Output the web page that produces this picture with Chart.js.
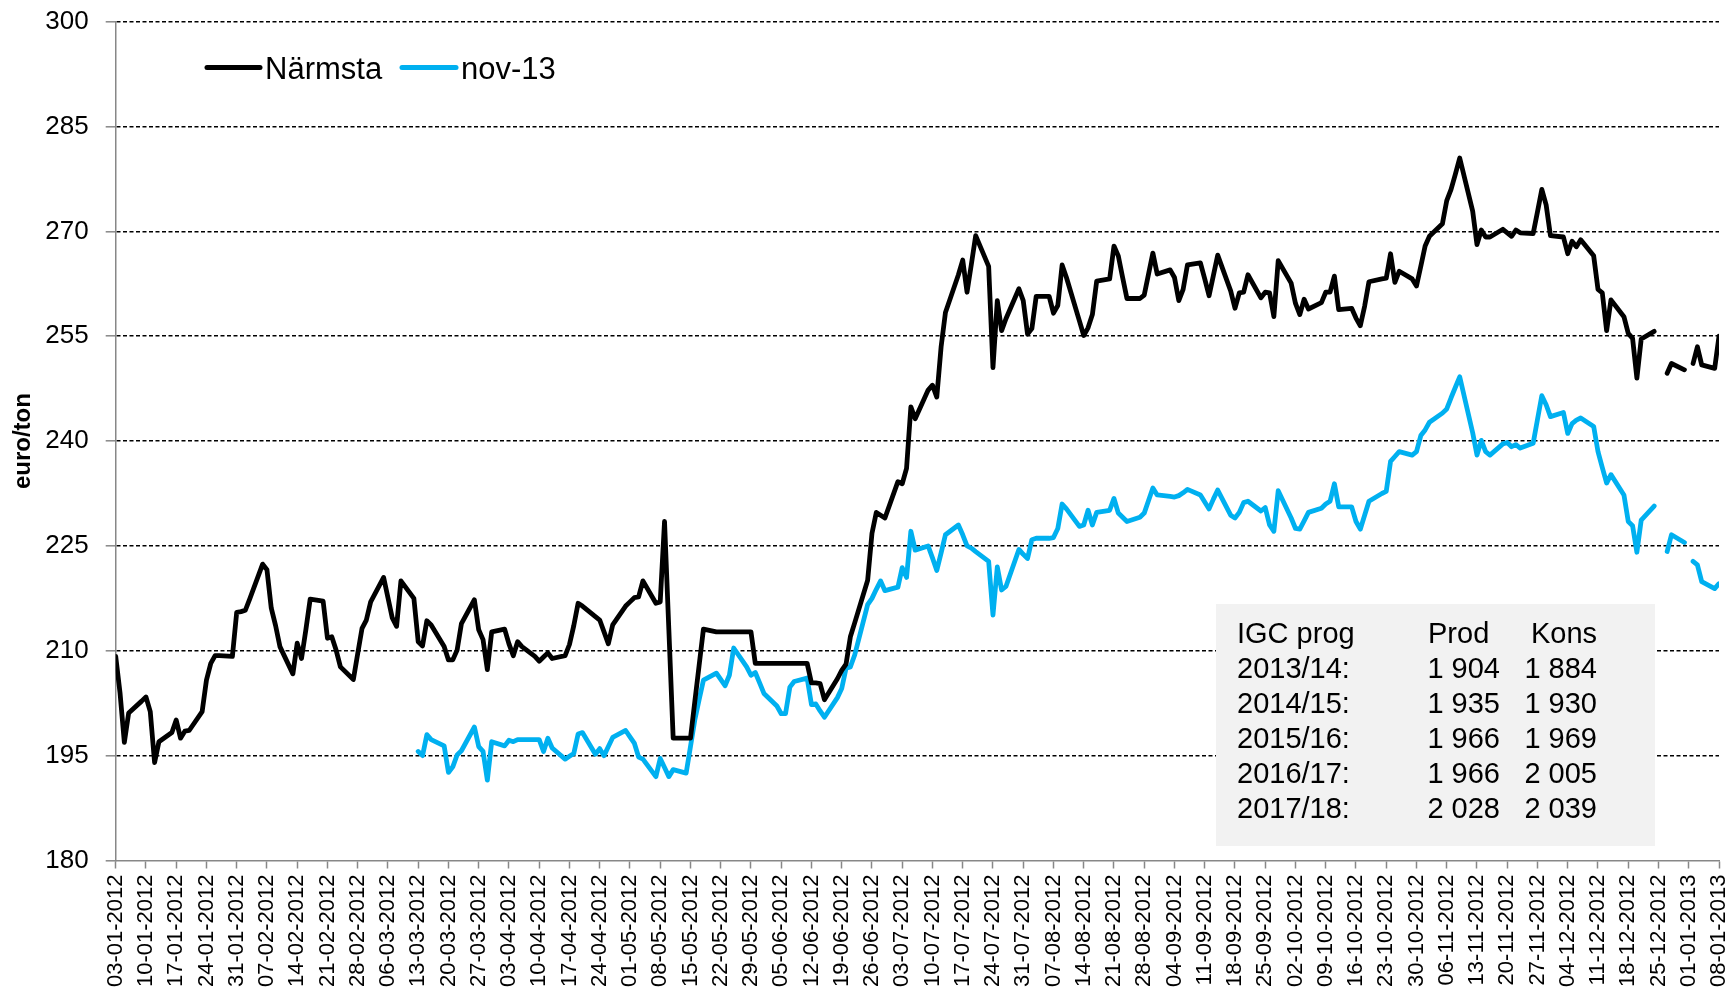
<!DOCTYPE html>
<html>
<head>
<meta charset="utf-8">
<script src="https://cdn.jsdelivr.net/npm/chart.js@4.4.1/dist/chart.umd.min.js"></script>
<style>
  html, body { margin: 0; padding: 0; background: #ffffff; }
  #wrap { width: 1732px; height: 991px; position: relative; }
  canvas { display: block; }
</style>
</head>
<body>
<div id="wrap"><canvas id="c" width="1732" height="991"></canvas></div>
<script>
// ---------- DATA ----------
// Trading days (Mon-Fri) from 03-01-2012 to 08-01-2013; x = days since 03-01-2012
const startYear = 2012, startMonth = 0, startDay = 3;
const lastDayOffset = 371;           // 08-01-2013
const tickStepDays = 7;              // weekly tick labels

const seriesNames = ['Närmsta', 'nov-13'];

// Närmsta (euro/ton), one row per week: Tue, Wed, Thu, Fri, Mon
const narmsta = [
  209.2, 204.0, 196.9, 201.1, 202.8,
  203.4, 201.3, 194.0, 197.0, 198.3,
  200.1, 197.5, 198.5, 198.6, 201.3,
  205.8, 208.2, 209.3, 209.3, 209.2,
  215.5, 215.6, 215.8, 217.4, 222.4,
  221.6, 216.1, 213.6, 210.6, 206.7,
  211.1, 208.9, 213.0, 217.4, 217.1,
  211.8, 212.0, 210.1, 207.7, 205.9,
  209.6, 213.2, 214.4, 217.0, 220.5,
  217.6, 214.7, 213.5, 220.0, 217.5,
  211.3, 210.7, 214.3, 213.7, 210.6,
  208.7, 208.7, 210.1, 213.9, 217.3,
  213.0, 211.6, 207.3, 212.7, 213.1,
  211.0, 209.3, 211.3, 210.6, 209.2,
  208.5, 209.1, 209.7, 208.9, 209.3,
  210.9, 213.6, 216.8, 216.4, 214.9,
  214.4, 212.7, 211.0, 213.7, 216.4,
  217.0, 217.6, 217.7, 220.0, 216.8,
  217.0, 228.5, 213.0, 197.5, 197.5,
  197.5, 202.7, 207.9, 213.1, 212.7,
  212.7, 212.7, 212.7, 212.7, 212.7,
  212.7, 208.2, 208.2, 208.2, 208.2,
  208.2, 208.2, 208.2, 208.2, 208.2,
  205.4, 205.4, 205.3, 203.0, 206.0,
  207.2, 208.1, 212.0, 214.0, 220.1,
  226.8, 229.8, 229.4, 229.0, 234.2,
  233.9, 236.1, 244.9, 243.2, 247.3,
  248.0, 246.3, 253.5, 258.4, 263.8,
  265.9, 261.3, 265.3, 269.4, 265.0,
  250.5, 260.1, 255.8, 257.5, 261.8,
  260.1, 255.3, 256.1, 260.7, 260.7,
  258.3, 259.4, 265.2, 263.4, 257.2,
  255.1, 256.2, 258.1, 262.9, 263.2,
  267.9, 266.5, 263.4, 260.4, 260.4,
  260.9, 263.9, 266.9, 263.9, 264.5,
  263.4, 260.1, 261.7, 265.2, 265.5,
  263.2, 260.8, 263.7, 266.6, 261.5,
  259.0, 261.2, 261.3, 263.8, 260.5,
  261.3, 261.2, 257.8, 265.8, 262.6,
  259.7, 258.1, 260.3, 258.9, 259.8,
  261.3, 261.3, 263.6, 258.8, 259.0,
  257.6, 256.5, 259.3, 262.8, 263.2,
  263.3, 266.8, 262.7, 264.3, 263.2,
  262.2, 265.0, 267.9, 269.3, 271.1,
  274.4, 276.0, 278.2, 280.5, 272.9,
  268.1, 270.2, 269.2, 269.2, 270.3,
  269.8, 269.3, 270.2, 269.8, 269.7,
  272.8, 276.0, 273.8, 269.4, 269.2,
  266.8, 268.6, 267.8, 268.8, 266.5,
  261.7, 261.2, 255.8, 260.2, 257.8,
  255.4, 254.7, 249.0, 254.6, 255.7,
  null,  null,  249.7, 251.1, 250.2,
  null,  251.1, 253.5, 250.9, 250.4,
  255.0
];

// nov-13 (euro/ton), quoted from 13-03-2012
const nov13 = [
  null, null, null, null, null, null, null, null, null, null,
  null, null, null, null, null, null, null, null, null, null,
  null, null, null, null, null, null, null, null, null, null,
  null, null, null, null, null, null, null, null, null, null,
  null, null, null, null, null, null, null, null, null, null,
  195.6, 195.0, 198.0, 197.3, 196.4,
  192.6, 193.4, 195.1, 195.7, 199.1,
  196.3, 195.6, 191.5, 197.0, 196.4,
  197.2, 197.0, 197.3, 197.3, 197.3,
  197.3, 195.6, 197.5, 196.1, 194.5,
  194.9, 195.3, 198.1, 198.3, 195.2,
  196.0, 195.0, 196.3, 197.6, 198.6,
  197.7, 196.8, 194.8, 194.5, 192.0,
  194.6, 193.3, 192.0, 193.0, 192.5,
  196.3, 200.1, 203.0, 205.8, 206.8,
  205.9, 205.0, 206.5, 210.4, 207.7,
  206.5, 206.9, 205.4, 203.9, 202.1,
  201.0, 201.0, 204.8, 205.6, 206.1,
  202.3, 202.4, 201.4, 200.5, 203.3,
  204.6, 207.5, 207.7, 209.4, 216.6,
  217.5, 218.8, 220.0, 218.6, 219.1,
  221.9, 220.5, 227.1, 224.4, 225.0,
  223.3, 221.5, 224.0, 226.6, 228.0,
  226.6, 225.0, 224.7, 224.2, 222.8,
  215.1, 222.0, 218.7, 219.2, 224.5,
  223.8, 223.2, 225.9, 226.1, 226.1,
  226.2, 227.5, 231.0, 230.3, 227.8,
  228.0, 230.1, 228.0, 229.8, 230.1,
  231.8, 229.7, 229.1, 228.5, 229.1,
  229.7, 231.5, 233.3, 232.3, 232.1,
  232.0, 232.2, 232.6, 233.1, 232.3,
  231.3, 230.3, 231.7, 233.0, 229.4,
  229.0, 229.8, 231.2, 231.4, 230.0,
  230.5, 228.0, 227.1, 232.9, 229.0,
  227.5, 227.4, 228.6, 229.8, 230.4,
  231.0, 231.4, 233.9, 230.6, 230.6,
  228.5, 227.4, 229.4, 231.4, 232.5,
  232.8, 237.1, 237.8, 238.5, 238.0,
  238.5, 240.8, 241.6, 242.7, 244.0,
  244.6, 246.2, 247.7, 249.2, 241.2,
  238.0, 240.1, 238.5, 238.0, 239.6,
  239.8, 239.2, 239.5, 239.0, 239.7,
  243.1, 246.5, 245.2, 243.5, 244.1,
  241.1, 242.5, 243.0, 243.3, 242.1,
  238.5, 236.2, 234.0, 235.2, 232.3,
  228.5, 227.9, 224.1, 228.7, 230.7,
  null,  null,  224.2, 226.6, 225.5,
  null,  222.8, 222.3, 219.9, 218.9,
  219.6
];

// Y axis
const yMin = 180, yMax = 300, yStep = 15;
const yTitle = 'euro/ton';

// IGC forecast table
const tableHeader = ['IGC prog', 'Prod', 'Kons'];
const tableYears  = ['2013/14:', '2014/15:', '2015/16:', '2016/17:', '2017/18:'];
const tableProd   = ['1 904', '1 935', '1 966', '1 966', '2 028'];
const tableKons   = ['1 884', '1 930', '1 969', '2 005', '2 039'];

// ---------- helpers ----------
const FONT = '"Liberation Sans", Arial, Helvetica, sans-serif';
function dayToDate(off) { return new Date(startYear, startMonth, startDay + off); }
function pad2(n) { return (n < 10 ? '0' : '') + n; }
function fmtDay(off) {
  const d = dayToDate(off);
  return pad2(d.getDate()) + '-' + pad2(d.getMonth() + 1) + '-' + d.getFullYear();
}
const tradingDays = [];
for (let off = 0; off <= lastDayOffset; off++) {
  const wd = dayToDate(off).getDay();
  if (wd >= 1 && wd <= 5) tradingDays.push(off);
}
function toPoints(vals) { return vals.map((v, i) => ({ x: tradingDays[i], y: v })); }

const colors = ['#000000', '#00B0F0'];

// ---------- plugins ----------
const legendPlugin = {
  id: 'lineLegend',
  afterDraw(chart) {
    const ctx = chart.ctx;
    const items = [
      { x1: 207, x2: 260, tx: 265 },
      { x1: 402, x2: 456, tx: 461 }
    ];
    ctx.save();
    chart.data.datasets.forEach((ds, i) => {
      const it = items[i];
      ctx.strokeStyle = ds.borderColor;
      ctx.lineWidth = 5;
      ctx.lineCap = 'round';
      ctx.beginPath();
      ctx.moveTo(it.x1, 67.5);
      ctx.lineTo(it.x2, 67.5);
      ctx.stroke();
      ctx.fillStyle = '#000';
      ctx.font = '31px ' + FONT;
      ctx.textBaseline = 'alphabetic';
      ctx.textAlign = 'left';
      ctx.fillText(ds.label, it.tx, 79);
    });
    ctx.restore();
  }
};

const tablePlugin = {
  id: 'igcTable',
  afterDraw(chart) {
    const ctx = chart.ctx;
    ctx.save();
    ctx.fillStyle = '#F2F2F2';
    ctx.fillRect(1216, 604, 439, 242);
    ctx.fillStyle = '#000';
    ctx.font = '29px ' + FONT;
    ctx.textBaseline = 'alphabetic';
    const base = 643, step = 35;
    ctx.textAlign = 'left';
    ctx.fillText(tableHeader[0], 1237, base);
    ctx.fillText(tableHeader[1], 1428, base);
    ctx.fillText(tableHeader[2], 1531, base);
    for (let r = 0; r < tableYears.length; r++) {
      const y = base + step * (r + 1);
      ctx.textAlign = 'left';
      ctx.fillText(tableYears[r], 1237, y);
      ctx.textAlign = 'right';
      ctx.fillText(tableProd[r], 1500, y);
      ctx.fillText(tableKons[r], 1597, y);
    }
    ctx.restore();
  }
};

// ---------- chart ----------
const AXIS_GREY = '#878787';
new Chart(document.getElementById('c'), {
  type: 'line',
  data: {
    datasets: [
      { label: seriesNames[0], data: toPoints(narmsta), borderColor: colors[0], backgroundColor: colors[0],
        borderWidth: 4.8, pointRadius: 0, tension: 0, spanGaps: false,
        borderCapStyle: 'round', borderJoinStyle: 'round', order: 1 },
      { label: seriesNames[1], data: toPoints(nov13), borderColor: colors[1], backgroundColor: colors[1],
        borderWidth: 4.8, pointRadius: 0, tension: 0, spanGaps: false,
        borderCapStyle: 'round', borderJoinStyle: 'round', order: 2 }
    ]
  },
  options: {
    responsive: false,
    animation: false,
    devicePixelRatio: 1,
    layout: { padding: { left: 0, right: 13, top: 21.7, bottom: 0 } },
    plugins: { legend: { display: false }, tooltip: { enabled: false } },
    scales: {
      x: {
        type: 'linear',
        min: 0,
        max: lastDayOffset,
        ticks: {
          stepSize: tickStepDays,
          autoSkip: false,
          maxRotation: 90,
          minRotation: 90,
          color: '#000',
          padding: 6,
          font: { size: 22, family: FONT },
          callback: (v) => fmtDay(v)
        },
        grid: { drawOnChartArea: false, drawTicks: true, tickLength: 8, tickColor: AXIS_GREY, tickWidth: 1.5 },
        border: { color: AXIS_GREY, width: 1.5 },
        afterFit: (s) => { s.height = 991 - 860.5; s.paddingLeft = 0; s.paddingRight = 0; }
      },
      y: {
        min: yMin,
        max: yMax,
        ticks: { stepSize: yStep, color: '#000', padding: 17, font: { size: 26, family: FONT } },
        grid: {
          color: (c) => (c.tick && c.tick.value === yMin) ? 'rgba(0,0,0,0)' : '#000000',
          lineWidth: 1.6,
          drawTicks: true,
          tickLength: 10,
          tickColor: AXIS_GREY,
          tickWidth: 1.5
        },
        border: { color: AXIS_GREY, width: 1.5, dash: [4, 2.5] },
        title: { display: true, text: yTitle, color: '#000', font: { size: 24, weight: 'bold', family: FONT }, padding: { top: 9, bottom: 0 } },
        afterFit: (s) => { s.width = 115.7; s.paddingTop = 0; s.paddingBottom = 0; }
      }
    }
  },
  plugins: [tablePlugin, legendPlugin]
});
</script>
</body>
</html>
